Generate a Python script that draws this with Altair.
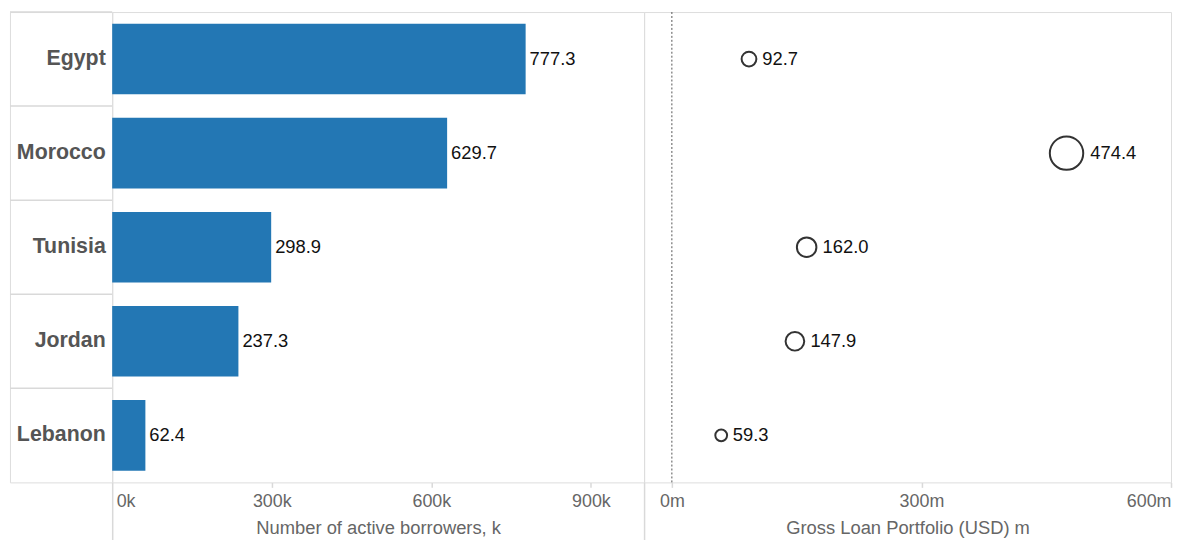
import altair as alt
import pandas as pd

# ---- data ----
countries = ["Egypt", "Morocco", "Tunisia", "Jordan", "Lebanon"]
borrowers_k = [777.3, 629.7, 298.9, 237.3, 62.4]       # Number of active borrowers, k
gross_loan_m = [92.7, 474.4, 162.0, 147.9, 59.3]       # Gross Loan Portfolio (USD) m
borrower_ticks = [0, 300, 600, 900, 1000]
loan_ticks = [0, 300, 600]
zero_line = [0]

df = pd.DataFrame({"country": countries, "borrowers": borrowers_k, "gross": gross_loan_m})
zdf = pd.DataFrame({"gross": zero_line})

H = 474
FONT = "Liberation Sans"
GRID = "#d9d9d9"
AXIS_TXT = "#666666"
SIZE_MAX = 1134
GROSS_MAX = max(gross_loan_m)
TICK_FS = 18
TITLE_FS = 18.5

# ---- row header column ----
header = alt.Chart(df).mark_rule(color=GRID, strokeWidth=1.5).encode(
    y=alt.Y("country:N", sort=countries, bandPosition=0,
            scale=alt.Scale(paddingInner=0, paddingOuter=0),
            axis=alt.Axis(title=None, orient="left", offset=-103, domain=False, ticks=False,
                          grid=False, bandPosition=0.5, labelAlign="right", labelBaseline="middle",
                          labelPadding=7, labelFont=FONT, labelFontSize=21.5, labelFontWeight="bold",
                          labelColor="#555555", labelLimit=0))
).properties(width=103, height=H)

# ---- bar panel ----
long_b = "datum.value == 0 || datum.value == 1000"
bar_x = alt.X("borrowers:Q",
              scale=alt.Scale(domain=[0, 1000], nice=False, zero=True),
              axis=alt.Axis(title="Number of active borrowers, k", values=borrower_ticks,
                            labelExpr="datum.value == 1000 ? '' : datum.value + 'k'",
                            domain=False, grid=False, tickColor=GRID, tickWidth=1.5,
                            tickSize={"condition": {"test": long_b, "value": 58}, "value": 5},
                            labelPadding={"condition": {"test": long_b, "value": -48}, "value": 5},
                            labelFlush=True, labelFlushOffset=-4,
                            labelFont=FONT, labelFontSize=TICK_FS, labelColor=AXIS_TXT,
                            titleFont=FONT, titleFontSize=TITLE_FS, titleColor=AXIS_TXT,
                            titleFontWeight="normal", titleY=45, titleBaseline="middle"))
bar_y = alt.Y("country:N", sort=countries, axis=None,
              scale=alt.Scale(paddingInner=0.25, paddingOuter=0.125))

bars = alt.Chart(df).mark_bar(color="#2377b4").encode(x=bar_x, y=bar_y)
bar_text = alt.Chart(df).mark_text(align="left", baseline="middle", dx=4, font=FONT,
                                   fontSize=18.5, color="#111111").encode(
    x=bar_x, y=bar_y, text=alt.Text("borrowers:Q", format=".1f"))
bar_view = alt.layer(bars, bar_text).properties(width=536, height=H)

# ---- circle panel ----
loan_x = alt.X("gross:Q",
               scale=alt.Scale(domain=[-33.4, 600], nice=False, zero=False),
               axis=alt.Axis(title="Gross Loan Portfolio (USD) m", values=loan_ticks,
                             labelExpr="datum.value + 'm'", domain=False, grid=False,
                             tickColor=GRID, tickWidth=1.5, tickSize=5, labelPadding=5,
                             labelFlush=True, labelFont=FONT, labelFontSize=TICK_FS,
                             labelColor=AXIS_TXT, titleFont=FONT, titleFontSize=TITLE_FS,
                             titleColor=AXIS_TXT, titleFontWeight="normal", titleY=45,
                             titleBaseline="middle"))
loan_y = alt.Y("country:N", sort=countries, axis=None,
               scale=alt.Scale(paddingInner=0, paddingOuter=0))

circles = alt.Chart(df).mark_point(shape="circle", filled=False, color="#333333",
                                   strokeWidth=2, opacity=1).encode(
    x=loan_x, y=loan_y,
    size=alt.Size("gross:Q", scale=alt.Scale(domain=[0, GROSS_MAX], range=[0, SIZE_MAX], zero=True),
                  legend=None))
zero_rule = alt.Chart(zdf).mark_rule(color="#555555", strokeDash=[2, 2], strokeWidth=1).encode(
    x=loan_x)
circle_text = alt.Chart(df).mark_text(
    align="left", baseline="middle", font=FONT, fontSize=18.5, color="#111111",
    dx={"expr": f"sqrt(datum.gross * {SIZE_MAX} / {GROSS_MAX} / PI) + 5"}).encode(
    x=loan_x, y=loan_y, text=alt.Text("gross:Q", format=".1f"))
loan_view = alt.layer(circles, zero_rule, circle_text).properties(width=531, height=H)

chart = alt.hconcat(header, bar_view, loan_view, spacing=0, bounds="flush").properties(
    padding={"left": 0, "top": 0, "right": 0, "bottom": 0}
).configure_view(stroke=GRID, strokeWidth=1.5).configure(font=FONT, background="white")

chart.save("out.html", embed_options={"renderer": "svg", "actions": False})
